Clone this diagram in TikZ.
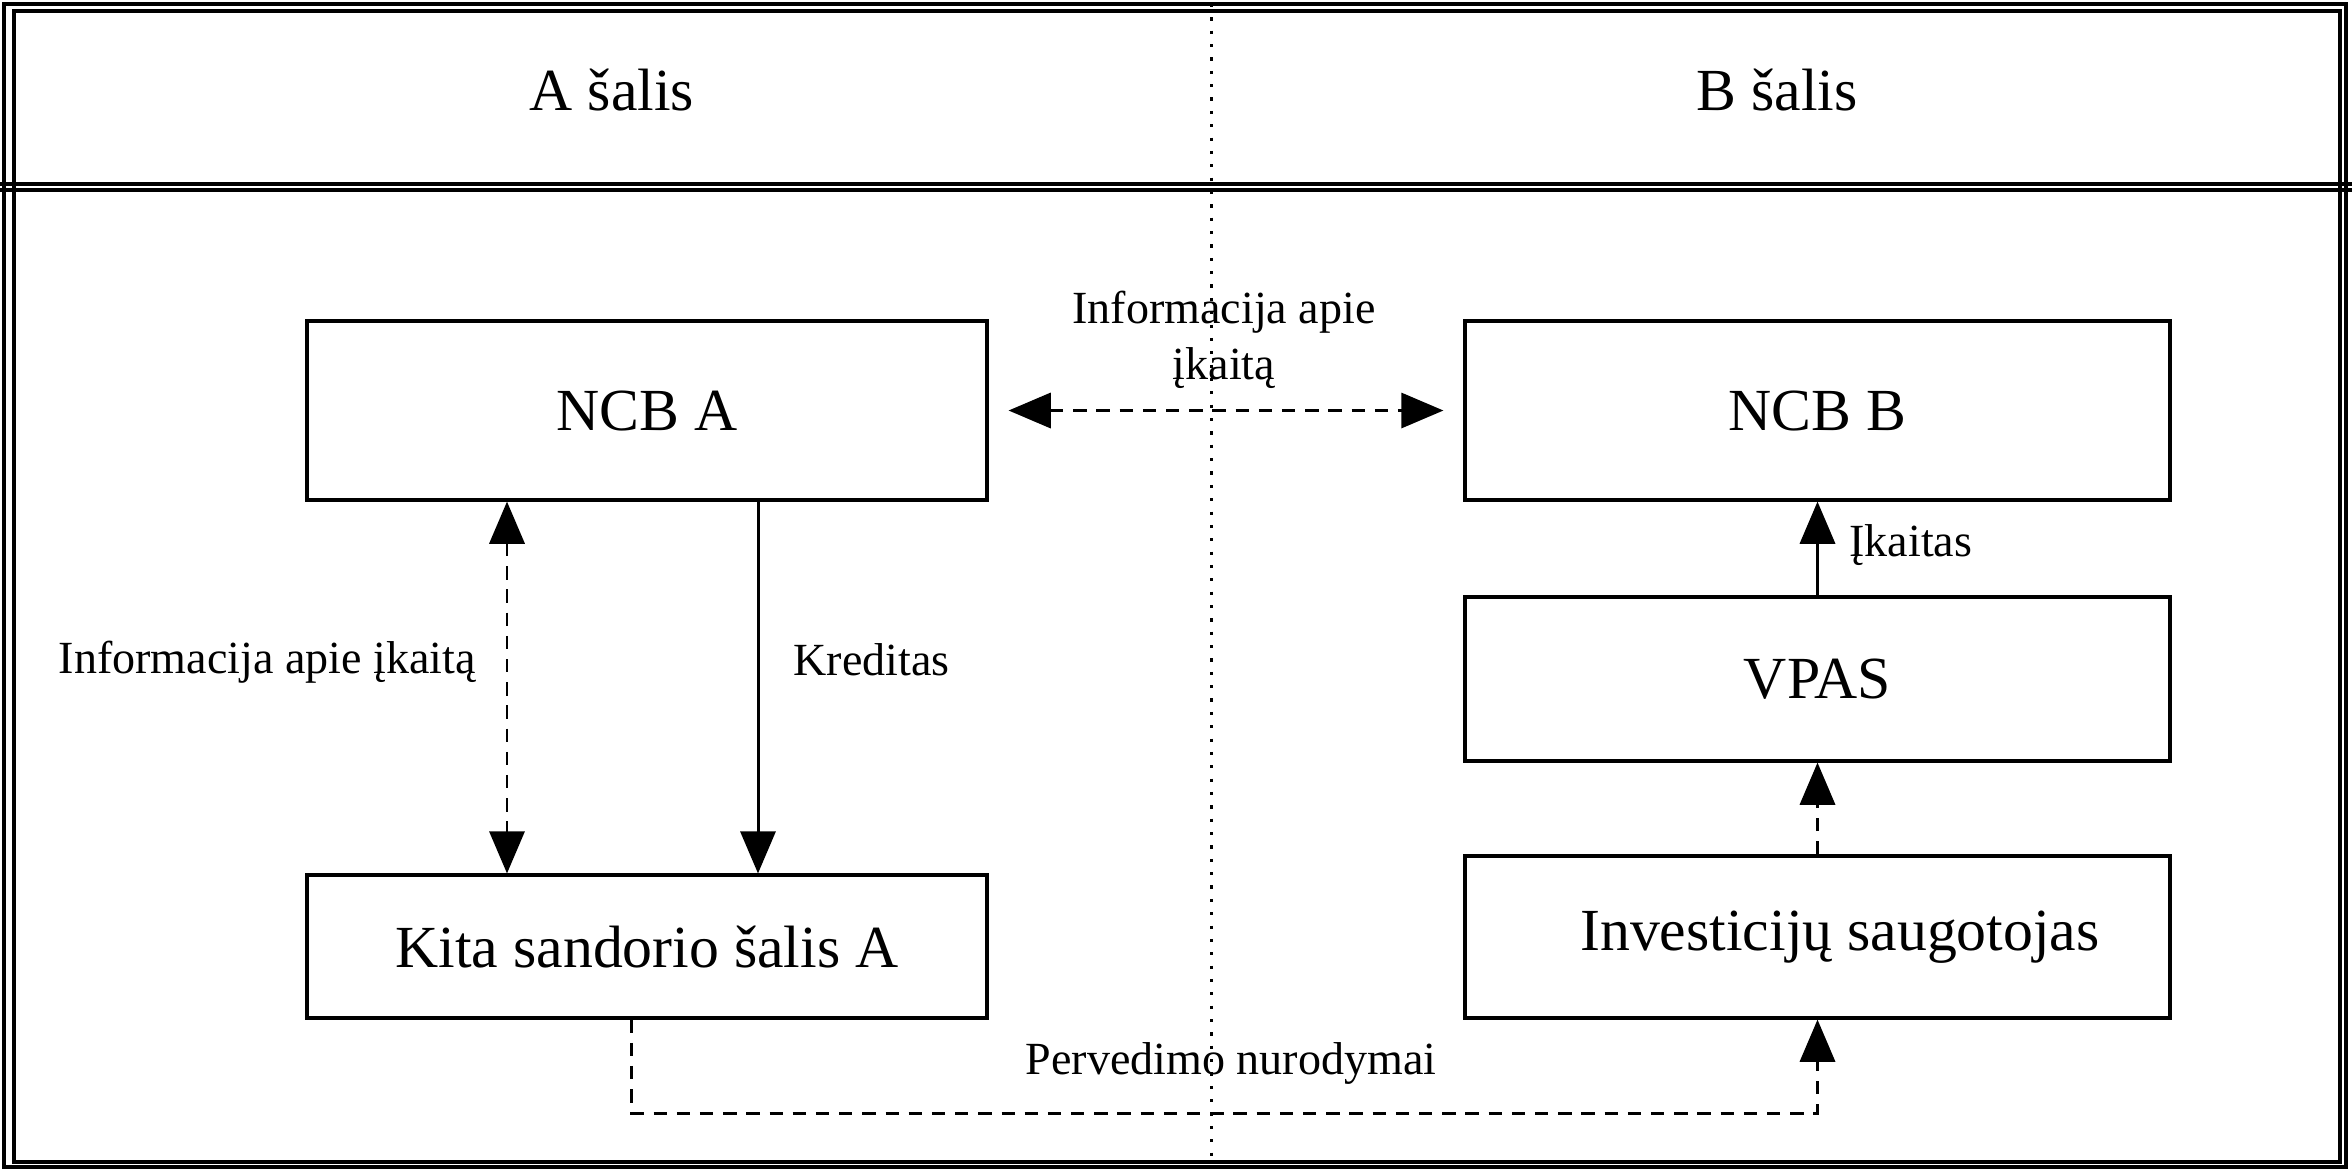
\documentclass[tikz,border=0pt]{standalone}
\usepackage{fontspec}
\setmainfont{Liberation Serif}
\usetikzlibrary{arrows.meta}

\begin{document}
\begin{tikzpicture}[line width=0.85pt, font=\fontsize{17}{20}\selectfont,
    frame/.style={line width=0.9pt},
    lbl/.style={font=\fontsize{13.1}{16}\selectfont},
    infoline/.style={dash pattern=on 3.8pt off 2.8pt},
    oneway/.style={-{Triangle[length=12pt,width=10pt]}},
    twoway/.style={{Triangle[length=12pt,width=10pt]}-{Triangle[length=12pt,width=10pt]}}]
\useasboundingbox (0,0) rectangle (23.52,-11.71);
% table frame
\draw[frame] (0.04,-0.04) rectangle (23.46,-11.67);
\draw[frame] (0.14,-0.11) rectangle (23.40,-11.62);
\draw[frame] (0,-1.84) -- (23.52,-1.84);
\draw[frame] (0,-1.90) -- (23.52,-1.90);
\draw[line width=0.9pt, dash pattern=on 0.9pt off 2.9pt] (12.115,-0.04) -- (12.115,-11.67);
\node (ahead) at (6.12,-0.90) {A šalis};
\node (bhead) at (17.77,-0.90) {B šalis};
 \begin{scope}[every node/.style={draw, line width=0.9pt, inner sep=0pt}]
  \node[minimum width=6.80cm, minimum height=1.79cm] (ncba) at (6.47,-4.105) {NCB A};
  \node[minimum width=7.05cm, minimum height=1.79cm] (ncbb) at (18.175,-4.105) {NCB B};
  \node[minimum width=6.80cm, minimum height=1.43cm] (kita) at (6.47,-9.465) {Kita sandorio šalis A};
  \node[minimum width=7.05cm, minimum height=1.64cm] (vpas) at (18.175,-6.79) {VPAS};
  \node[minimum width=7.05cm, minimum height=1.62cm] (inv) at (18.175,-9.37) {\hspace*{0.45cm}Investicijų saugotojas};
 \end{scope}
\coordinate (infoL) at (5.07,0);
\coordinate (kred) at (7.58,0);
\coordinate (turnL) at (6.31,-11.13);
  \path [twoway, infoline, shorten <=0.2cm, shorten >=0.2cm] (ncba) edge (ncbb);
  \path [twoway, infoline] (ncba.south -| infoL) edge (kita.north -| infoL);
  \path [oneway] (ncba.south -| kred) edge (kita.north -| kred);
  \path [oneway] (vpas) edge (ncbb);
  \path [oneway, infoline] (inv) edge (vpas);
  \draw [oneway, infoline] (kita.south -| turnL) -- (turnL) -- (turnL -| inv.south) -- (inv.south);
\node[lbl, align=center] (infomid) at (12.24,-3.40) {Informacija apie\\įkaitą};
\node[lbl, anchor=east, inner sep=0pt] (infolbl) at (4.77,-6.62) {Informacija apie įkaitą};
\node[lbl, anchor=west, inner sep=0pt] (kredlbl) at (7.92,-6.60) {Kreditas};
\node[lbl, anchor=west, inner sep=0pt] (ikaitlbl) at (18.48,-5.45) {Įkaitas};
\node[lbl] (pervlbl) at (12.31,-10.63) {Pervedimo nurodymai};
 \end{tikzpicture}
\end{document}
